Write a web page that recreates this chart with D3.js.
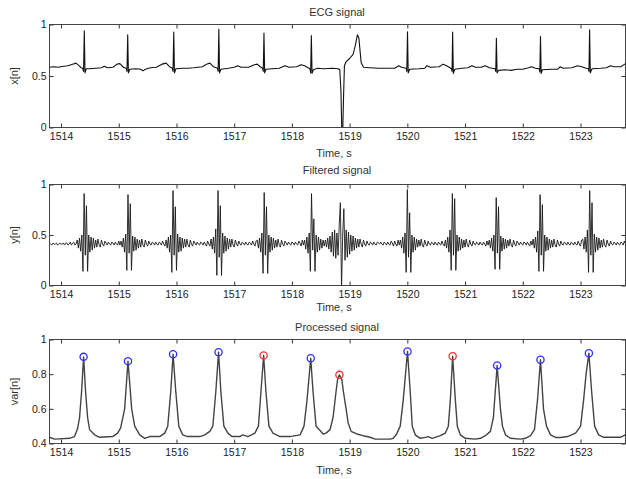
<!DOCTYPE html>
<html><head><meta charset="utf-8">
<script src="https://cdn.jsdelivr.net/npm/d3@7"></script>
<style>body{margin:0;background:#fff} svg{display:block} text{font-family:Arial,"Liberation Sans",sans-serif}</style>
</head><body><svg id="c" width="626" height="479"></svg>
<script>
// ---------- data ----------
const xDomain = [1513.8, 1523.78];
const xTicks = [1514, 1515, 1516, 1517, 1518, 1519, 1520, 1521, 1522, 1523];
const ecgYTicks = [0, 0.5, 1];
const filtYTicks = [0, 0.5, 1];
const procYTicks = [0.4, 0.6, 0.8, 1];

// ECG signal: [time s, x[n]]
const ecg = [[1513.80,0.585],[1513.88,0.59],[1513.95,0.585],[1514.05,0.595],[1514.12,0.6],[1514.2,0.615],[1514.26,0.625],[1514.31,0.6],[1514.35,0.58],[1514.375,0.575],[1514.39,0.545],[1514.403,0.94],[1514.415,0.53],[1514.435,0.57],[1514.5,0.57],[1514.6,0.575],[1514.7,0.58],[1514.75,0.595],[1514.8,0.58],[1514.9,0.585],[1514.97,0.615],[1515.02,0.62],[1515.08,0.585],[1515.13,0.575],[1515.142,0.545],[1515.155,0.90],[1515.167,0.53],[1515.19,0.565],[1515.3,0.57],[1515.38,0.565],[1515.42,0.55],[1515.46,0.565],[1515.55,0.58],[1515.65,0.585],[1515.75,0.615],[1515.82,0.625],[1515.88,0.59],[1515.928,0.575],[1515.94,0.545],[1515.953,0.926],[1515.965,0.53],[1515.99,0.57],[1516.1,0.575],[1516.2,0.575],[1516.3,0.58],[1516.45,0.59],[1516.52,0.615],[1516.58,0.625],[1516.64,0.59],[1516.71,0.575],[1516.722,0.545],[1516.734,0.955],[1516.746,0.53],[1516.77,0.565],[1516.9,0.575],[1517.0,0.585],[1517.06,0.6],[1517.12,0.585],[1517.25,0.585],[1517.35,0.61],[1517.4,0.615],[1517.45,0.59],[1517.492,0.575],[1517.504,0.545],[1517.516,0.916],[1517.528,0.53],[1517.55,0.565],[1517.65,0.57],[1517.78,0.575],[1517.88,0.6],[1517.95,0.585],[1518.08,0.59],[1518.16,0.61],[1518.22,0.6],[1518.28,0.58],[1518.313,0.57],[1518.325,0.53],[1518.337,0.893],[1518.349,0.525],[1518.37,0.56],[1518.45,0.575],[1518.55,0.57],[1518.7,0.575],[1518.8,0.57],[1518.83,0.56],[1518.85,0.35],[1518.865,-0.05],[1518.88,-0.05],[1518.895,0.3],[1518.91,0.6],[1518.94,0.64],[1519.0,0.67],[1519.06,0.71],[1519.1,0.8],[1519.135,0.9],[1519.16,0.87],[1519.2,0.63],[1519.24,0.585],[1519.35,0.58],[1519.5,0.575],[1519.65,0.575],[1519.78,0.575],[1519.85,0.6],[1519.9,0.585],[1519.98,0.575],[1519.991,0.545],[1520.003,0.93],[1520.015,0.53],[1520.04,0.565],[1520.2,0.57],[1520.3,0.575],[1520.34,0.6],[1520.4,0.585],[1520.55,0.59],[1520.62,0.615],[1520.68,0.6],[1520.74,0.58],[1520.763,0.57],[1520.775,0.545],[1520.785,0.926],[1520.797,0.525],[1520.82,0.565],[1520.95,0.575],[1521.05,0.58],[1521.12,0.6],[1521.18,0.585],[1521.28,0.585],[1521.35,0.6],[1521.42,0.58],[1521.52,0.57],[1521.532,0.545],[1521.543,0.867],[1521.555,0.53],[1521.58,0.555],[1521.7,0.56],[1521.8,0.555],[1521.9,0.565],[1522.0,0.565],[1522.1,0.58],[1522.15,0.59],[1522.22,0.575],[1522.285,0.57],[1522.296,0.54],[1522.307,0.883],[1522.319,0.525],[1522.34,0.56],[1522.5,0.565],[1522.6,0.565],[1522.65,0.59],[1522.7,0.575],[1522.85,0.58],[1522.95,0.6],[1523.02,0.59],[1523.1,0.575],[1523.135,0.57],[1523.147,0.545],[1523.158,0.948],[1523.17,0.53],[1523.2,0.57],[1523.35,0.575],[1523.45,0.58],[1523.52,0.6],[1523.58,0.59],[1523.7,0.59],[1523.78,0.62]];

// Filtered signal: segments of samples (hundredths), sample step 0.02 s
const filtDt = 0.02;
const filtered = [
  {t0:1513.80, v:"42 41 40 42 41 41 42 40 41 42 41 41 42 40 42 42 40 41 43 40 42 43 40 41"},
  {t0:1514.28, v:"45 37 47 34 50 14 91 30 79 14 50 33 48 35 47 37 45 38"},
  {t0:1514.64, v:"46 40 38 45 41 39 44 42 40 43 41 40 43 42 40 43 41 40 44 40"},
  {t0:1515.04, v:"44 38 47 33 51 15 90 32 81 15 49 34 48 35 46 37 45 38"},
  {t0:1515.40, v:"46 40 38 45 41 39 44 41 40 43 42 40 43 41 40 43 42 40 44 41 39"},
  {t0:1515.82, v:"45 37 48 33 50 13 94 30 78 15 51 33 48 34 47 37 46 38"},
  {t0:1516.18, v:"46 40 38 45 41 39 44 42 40 43 41 40 43 42 40 43 41 39 44 41 39"},
  {t0:1516.60, v:"46 36 48 32 56 10 94 28 79 10 52 32 49 34 47 36 46 38"},
  {t0:1516.96, v:"46 40 38 45 41 39 44 41 40 43 42 40 43 41 40 43 42 40 44 41 39 44"},
  {t0:1517.40, v:"45 37 47 33 52 12 92 30 78 12 50 33 48 35 47 37 45 38"},
  {t0:1517.76, v:"46 40 38 45 41 39 44 42 40 43 41 40 43 42 40 43 41 40 44 42 39 45 40"},
  {t0:1518.22, v:"45 36 48 32 52 14 91 35 66 14 50 33 48 35 46 37 45 39"},
  {t0:1518.58, v:"45 38 47 36 49 33 53 29 55 27 52 30 60 82 -3 50 76 25 55 28 53 31 50 34 49 35 47 37 46 38"},
  {t0:1519.18, v:"46 41 38 45 41 39 44 41 40 43 42 40 43 41 40 43 42 41 43 41 40 43 42 40 43 41 40 44 42 39 44 41 39 45 40"},
  {t0:1519.88, v:"45 37 48 32 52 13 95 28 72 13 50 33 48 35 46 38 45 39"},
  {t0:1520.24, v:"46 40 38 45 41 39 44 41 40 43 42 40 43 41 40 43 41 40 44 41 39"},
  {t0:1520.66, v:"45 37 48 33 55 15 91 30 86 15 50 34 48 35 46 37 45 38"},
  {t0:1521.02, v:"46 40 38 45 41 39 44 41 40 43 42 40 43 41 40 43 41 39 44 40"},
  {t0:1521.42, v:"45 37 47 34 50 16 87 32 78 16 49 34 47 36 46 37 45 39"},
  {t0:1521.78, v:"46 40 38 45 41 39 44 42 40 43 41 40 43 42 40 43 41 39 44 40"},
  {t0:1522.18, v:"46 37 48 33 54 14 90 30 80 14 50 34 48 35 46 37 45 38"},
  {t0:1522.54, v:"46 40 38 45 41 39 44 41 40 43 42 40 43 41 40 43 42 40 43 41 40 44 41 39 45"},
  {t0:1523.04, v:"46 36 48 33 55 13 94 30 82 13 51 33 48 35 47 37 45 38"},
  {t0:1523.40, v:"46 40 38 45 41 39 44 41 40 43 42 40 43 41 40 43 42 40 44 41"}
];

// Processed signal: [time s, var[n]]
const processed = [[1513.800,0.436],[1513.887,0.425],[1514.148,0.43],[1514.234,0.44],[1514.286,0.485],[1514.321,0.55],[1514.356,0.7],[1514.391,0.90],[1514.425,0.7],[1514.46,0.55],[1514.495,0.48],[1514.582,0.45],[1514.668,0.436],[1514.894,0.44],[1514.981,0.46],[1515.033,0.49],[1515.102,0.6],[1515.16,0.875],[1515.224,0.6],[1515.276,0.5],[1515.363,0.45],[1515.45,0.43],[1515.536,0.44],[1515.71,0.44],[1515.797,0.46],[1515.849,0.5],[1515.901,0.7],[1515.941,0.915],[1515.988,0.7],[1516.04,0.5],[1516.109,0.45],[1516.196,0.44],[1516.405,0.44],[1516.491,0.45],[1516.578,0.47],[1516.63,0.5],[1516.682,0.7],[1516.729,0.927],[1516.769,0.7],[1516.821,0.5],[1516.891,0.46],[1516.96,0.44],[1517.099,0.44],[1517.151,0.45],[1517.238,0.44],[1517.359,0.46],[1517.42,0.5],[1517.464,0.7],[1517.51,0.908],[1517.55,0.7],[1517.602,0.5],[1517.672,0.46],[1517.793,0.44],[1517.967,0.44],[1518.141,0.45],[1518.21,0.5],[1518.262,0.65],[1518.326,0.892],[1518.366,0.7],[1518.418,0.5],[1518.488,0.475],[1518.54,0.455],[1518.592,0.46],[1518.661,0.48],[1518.713,0.55],[1518.765,0.7],[1518.792,0.77],[1518.823,0.796],[1518.865,0.77],[1518.892,0.7],[1518.939,0.6],[1518.974,0.52],[1519.026,0.47],[1519.125,0.455],[1519.234,0.445],[1519.356,0.436],[1519.443,0.425],[1519.703,0.425],[1519.755,0.43],[1519.807,0.45],[1519.877,0.5],[1519.929,0.65],[1520.003,0.931],[1520.05,0.7],[1520.085,0.5],[1520.137,0.45],[1520.224,0.43],[1520.311,0.435],[1520.363,0.44],[1520.432,0.43],[1520.571,0.445],[1520.658,0.46],[1520.71,0.5],[1520.745,0.65],[1520.785,0.904],[1520.832,0.65],[1520.866,0.5],[1520.918,0.45],[1521.005,0.43],[1521.179,0.425],[1521.266,0.43],[1521.352,0.445],[1521.439,0.47],[1521.491,0.55],[1521.556,0.85],[1521.613,0.6],[1521.648,0.5],[1521.7,0.45],[1521.786,0.43],[1521.96,0.425],[1522.047,0.43],[1522.134,0.445],[1522.203,0.48],[1522.255,0.65],[1522.307,0.883],[1522.359,0.6],[1522.411,0.5],[1522.481,0.45],[1522.568,0.435],[1522.655,0.435],[1522.776,0.44],[1522.915,0.46],[1523.002,0.5],[1523.054,0.65],[1523.097,0.8],[1523.146,0.921],[1523.193,0.7],[1523.245,0.5],[1523.314,0.45],[1523.401,0.436],[1523.609,0.436],[1523.691,0.436],[1523.777,0.45]];

// detected peaks
const peakTimes  = [1514.391,1515.16,1515.941,1516.729,1517.51,1518.326,1518.823,1520.003,1520.785,1521.556,1522.307,1523.146];
const peakValues = [0.90,0.875,0.915,0.927,0.908,0.892,0.796,0.931,0.904,0.85,0.883,0.921];
const peakKind   = ["ok","ok","ok","ok","flag","ok","flag","ok","flag","ok","ok","ok"];

// ---------- drawing ----------
const svg = d3.select("#c");
const L = 49.5, R = 625.5;
const panels = [
  {top:24.5,  bottom:127.5, yDomain:[0,1],   yTicks:ecgYTicks,  title:"ECG signal",       ylabel:"x[n]",   titleY:16,  xlabY:157},
  {top:184.5, bottom:285.5, yDomain:[0,1],   yTicks:filtYTicks, title:"Filtered signal",  ylabel:"y[n]",   titleY:174, xlabY:311},
  {top:339.5, bottom:443.5, yDomain:[0.4,1], yTicks:procYTicks, title:"Processed signal", ylabel:"var[n]", titleY:331, xlabY:474}
];
const x = d3.scaleLinear().domain(xDomain).range([L, R]);
const fmt = d => String(d);
const filtPts = [];
filtered.forEach(s => s.v.trim().split(/\s+/).forEach((c,i) => filtPts.push([s.t0 + i*filtDt, +c/100])));
const series = [ecg, filtPts, processed];
const strokes = [{c:"#111", w:1.1}, {c:"#1a1a1a", w:0.9}, {c:"#444", w:1.4}];

panels.forEach((p, i) => {
  const y = d3.scaleLinear().domain(p.yDomain).range([p.bottom, p.top]);
  const g = svg.append("g");
  const cid = "clip" + i;
  svg.append("clipPath").attr("id", cid).append("rect")
    .attr("x", L).attr("y", p.top).attr("width", R - L).attr("height", p.bottom - p.top);

  const line = d3.line().x(d => x(d[0])).y(d => y(d[1]));
  g.append("path").datum(series[i]).attr("clip-path", `url(#${cid})`)
    .attr("fill", "none")
    .attr("stroke", strokes[i].c)
    .attr("stroke-width", strokes[i].w)
    .attr("stroke-linejoin", "round")
    .attr("d", line);

  if (i === 2) {
    g.selectAll("circle.pk").data(peakTimes).join("circle").attr("class","pk")
      .attr("cx", (d) => x(d)).attr("cy", (d, j) => y(peakValues[j])).attr("r", 3.6)
      .attr("fill", "none").attr("stroke-width", 1.3)
      .attr("stroke", (d, j) => peakKind[j] === "flag" ? "#ff3030" : "#3030ff");
  }

  const axStyle = sel => {
    sel.select(".domain").remove();
    sel.selectAll(".tick line").attr("stroke", "#333");
    sel.selectAll(".tick text").attr("fill", "#222").style("font-size", "10.5px")
      .style("font-family", "Arial, 'Liberation Sans', sans-serif");
  };
  g.append("g").attr("transform", `translate(0,${p.bottom})`)
    .call(d3.axisBottom(x).tickValues(xTicks).tickFormat(fmt).tickSize(-4).tickPadding(5)).call(axStyle);
  g.append("g").attr("transform", `translate(0,${p.top})`)
    .call(d3.axisTop(x).tickValues(xTicks).tickFormat("").tickSize(-4)).call(axStyle);
  g.append("g").attr("transform", `translate(${L},0)`)
    .call(d3.axisLeft(y).tickValues(p.yTicks).tickFormat(fmt).tickSize(-4).tickPadding(3)).call(axStyle);
  g.append("g").attr("transform", `translate(${R},0)`)
    .call(d3.axisRight(y).tickValues(p.yTicks).tickFormat("").tickSize(-4)).call(axStyle);

  g.append("rect").attr("x", L).attr("y", p.top).attr("width", R - L).attr("height", p.bottom - p.top)
    .attr("fill", "none").attr("stroke", "#444").attr("stroke-width", 1);

  g.append("text").attr("x", 337).attr("y", p.titleY).attr("text-anchor", "middle")
    .attr("fill", "#333").style("font-size", "11px").text(p.title);
  g.append("text").attr("x", 334).attr("y", p.xlabY).attr("text-anchor", "middle")
    .attr("fill", "#333").style("font-size", "11px").text("Time, s");
  g.append("text").attr("transform", `translate(18,${(p.top + p.bottom) / 2}) rotate(-90)`)
    .attr("text-anchor", "middle").attr("fill", "#333").style("font-size", "11px").text(p.ylabel);
});
</script></body></html>
